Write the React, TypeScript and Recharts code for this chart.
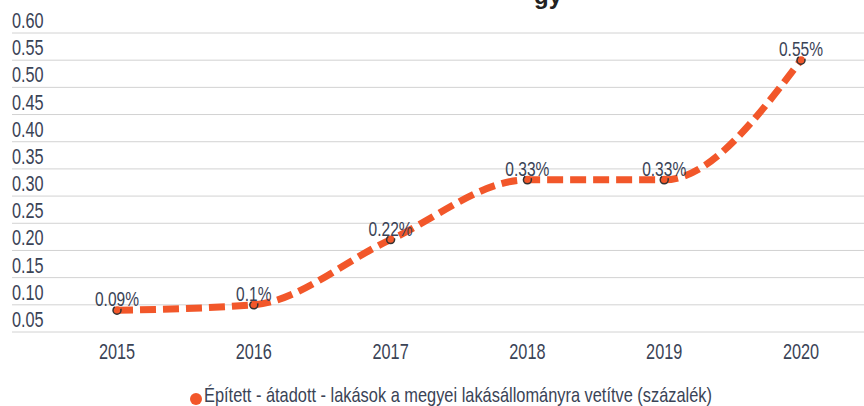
import React from 'react';
import { LineChart, Line, XAxis, YAxis, CartesianGrid, LabelList, Legend } from 'recharts';

const years = ['2015', '2016', '2017', '2018', '2019', '2020'];
const values = [0.09, 0.1, 0.22, 0.33, 0.33, 0.55];
const valueLabels = ['0.09%', '0.1%', '0.22%', '0.33%', '0.33%', '0.55%'];
const yTicks = [0.05, 0.1, 0.15, 0.2, 0.25, 0.3, 0.35, 0.4, 0.45, 0.5, 0.55, 0.6];
const seriesName = 'Épített - átadott - lakások a megyei lakásállományra vetítve (százalék)';
const titleFragment = 'gy';

const data = years.map((y, i) => ({ year: y, value: values[i], label: valueLabels[i] }));

const FONT = "'Liberation Sans', Arial, sans-serif";
const SX = 0.74;
const TEXT = '#3a4356';
const ORANGE = '#f2572a';

const NarrowText = ({ x, y, anchor, size, children }: any) => (
  <text
    transform={`scale(${SX},1)`}
    x={x / SX}
    y={y}
    textAnchor={anchor}
    fontFamily={FONT}
    fontSize={size}
    fill={TEXT}
  >
    {children}
  </text>
);

const YTick = (props: any) => {
  const { y, payload } = props;
  return (
    <NarrowText x={12} y={y - 5} anchor="start" size={22}>
      {Number(payload.value).toFixed(2)}
    </NarrowText>
  );
};

const XTick = (props: any) => {
  const { x, y, payload } = props;
  return (
    <NarrowText x={x} y={y + 19} anchor="middle" size={22}>
      {payload.value}
    </NarrowText>
  );
};

const ValueLabel = (props: any) => {
  const { x, y, value } = props;
  return (
    <NarrowText x={x} y={y - 4} anchor="middle" size={21}>
      {value}
    </NarrowText>
  );
};

const LegendContent = () => (
  <div style={{ height: 36, position: 'relative', fontFamily: FONT, fontSize: 21, color: TEXT }}>
    <div style={{ position: 'absolute', left: 179, top: 23, width: 12, height: 12, borderRadius: 6, background: ORANGE }} />
    <div
      style={{
        position: 'absolute',
        left: 193,
        top: 12,
        whiteSpace: 'nowrap',
        lineHeight: '26px',
        transform: 'scaleX(0.78)',
        transformOrigin: 'left center',
      }}
    >
      {seriesName}
    </div>
  </div>
);

const verticalGen = (args: any) => {
  const xAxis = args && args.xAxis;
  if (xAxis && typeof xAxis.scale === 'function') {
    const s = xAxis.scale;
    return years.map((y) => s(y)).filter((v: any) => typeof v === 'number' && !isNaN(v));
  }
  return [];
};

export default function App() {
  return (
    <div style={{ position: 'absolute', left: 0, top: 0, width: 864, height: 406, overflow: 'hidden', background: '#fff' }}>
      <div
        style={{
          position: 'absolute',
          left: 534,
          top: -16,
          fontFamily: "'Liberation Sans', sans-serif",
          fontWeight: 'bold',
          fontSize: 24,
          color: '#222',
          lineHeight: '24px',
        }}
      >
        {titleFragment}
      </div>
      <LineChart width={864} height={406} data={data} margin={{ top: 33, right: 0, left: 11, bottom: 0 }}>
        <CartesianGrid stroke="#d2d2d2" strokeWidth={1} verticalCoordinatesGenerator={verticalGen} />
        <XAxis
          dataKey="year"
          axisLine={false}
          tickLine={false}
          height={38}
          padding={{ left: 105, right: 63 }}
          tick={<XTick />}
          interval={0}
        />
        <YAxis
          width={1}
          domain={[0.05, 0.6]}
          ticks={yTicks}
          axisLine={false}
          tickLine={false}
          tick={<YTick />}
          interval={0}
        />
        <Legend verticalAlign="bottom" height={36} content={<LegendContent />} />
        <Line
          type="monotone"
          dataKey="value"
          name={seriesName}
          stroke={ORANGE}
          strokeWidth={7}
          strokeDasharray="16 7"
          dot={{ r: 4, fill: ORANGE, stroke: '#333', strokeWidth: 1.5 }}
          activeDot={false}
          isAnimationActive={false}
        >
          <LabelList dataKey="label" content={<ValueLabel />} />
        </Line>
      </LineChart>
    </div>
  );
}
